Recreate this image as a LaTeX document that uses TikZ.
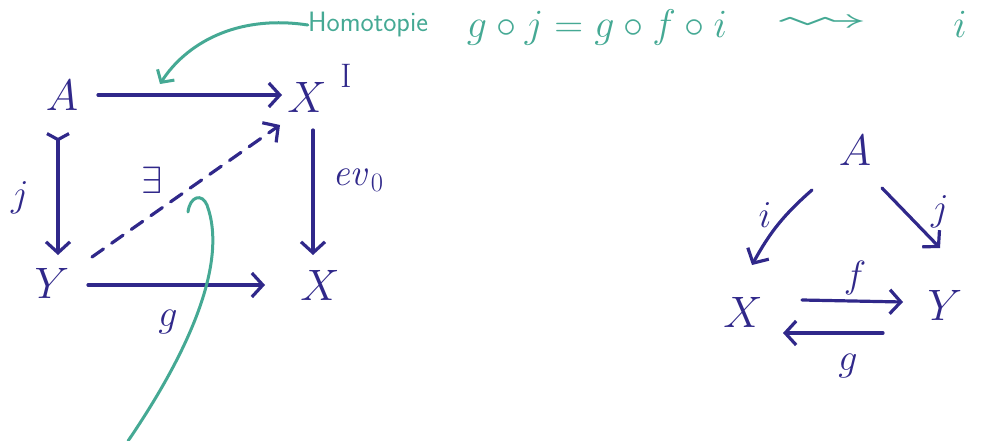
\RequirePackage{fix-cm}
\documentclass[tikz,border=0pt]{standalone}
\usepackage{amssymb}
\usetikzlibrary{arrows.meta,calc}
\definecolor{ink}{HTML}{30288A}
\definecolor{tealink}{HTML}{45A994}
\begin{document}
\begin{tikzpicture}[x=1pt,y=-1pt,
  obj/.style={text=ink,inner sep=1pt,font=\fontsize{44}{44}\selectfont},
  lab/.style={text=ink,inner sep=1pt,font=\fontsize{38}{38}\selectfont},
  mor/.style={draw=ink,line width=3.2pt,line cap=round,-{Straight Barb[length=11pt,width=24pt]}},
  note/.style={draw=tealink,line width=3pt,line cap=round},
  notetext/.style={text=tealink,inner sep=0pt}]
\useasboundingbox (0,0) rectangle (992,441);
% left square
\node[obj] (A) at (62,95) {$A$};
\node[obj] (XI) at (307,97) {$X$};
\node[obj,font=\fontsize{34}{34}\selectfont] (XIexp) at (346,76) {$\mathrm{I}$};
\node[obj] (Y) at (52,283) {$Y$};
\node[obj] (X) at (320,285) {$X$};
\draw[mor] ($(A)+(36,0)$) -- ($(XI)+(-25,-2)$);
\draw[mor,{Straight Barb[reversed,length=6pt,width=22pt]}-{Straight Barb[length=11pt,width=24pt]}] ($(A)+(-4,37)$) -- ($(Y)+(6,-28)$);
\draw[mor] ($(Y)+(36,2)$) -- ($(X)+(-55,0)$);
\draw[mor] ($(XI)+(6,33)$) -- ($(X)+(-7,-30)$);
\draw[mor,dash pattern=on 14pt off 10pt] ($(Y)+(40,-26)$) -- ($(XI)+(-27,28)$);
\node[lab] (lj) at (20,198) {$j$};
\node[lab] (lg) at (168,322) {$g$};
\node[lab] (lex) at (152,180) {$\exists$};
\node[lab] (lev) at (358,180) {$\mathit{ev}_{0}$};
% right triangle
\node[obj] (A2) at (855,150) {$A$};
\node[obj] (X2) at (743,312) {$X$};
\node[obj] (Y2) at (945,305) {$Y$};
\draw[mor] ($(A2)+(-43,40)$) to[bend right=10] ($(X2)+(9,-47)$);
\draw[mor] ($(A2)+(27,38)$) -- ($(Y2)+(-5,-57)$);
\draw[mor] ($(X2)+(59,-12)$) -- ($(Y2)+(-42,-3)$);
\draw[mor] ($(Y2)+(-62,28)$) -- ($(X2)+(40,21)$);
\node[lab] (li) at (765,215) {$i$};
\node[lab] (lj2) at (940,212) {$j$};
\node[lab] (lf) at (855,278) {$f$};
\node[lab] (lg2) at (848,366) {$g$};
% teal annotations
\node[notetext,font=\fontsize{28}{28}\selectfont\sffamily] (homo) at (368,25) {Homotopie};
\node[notetext,font=\fontsize{40}{40}\selectfont] (formula) at (597,28) {$g\circ j = g\circ f\circ i$};
\node[notetext] (squig) at (822,24) {\scalebox{9.5}[4]{$\rightsquigarrow$}};
\node[notetext,font=\fontsize{40}{40}\selectfont] (ifin) at (960,24) {$i$};
\coordinate (tipA) at (160,84);
\draw[note,-{Straight Barb[length=9pt,width=20pt]}] (homo.west) .. controls (235,14) and (185,45) .. (tipA);
\coordinate (lowend) at (128,441);
\coordinate (hookend) at (188,212);
\draw[note] (lowend) .. controls (190,350) and (228,262) .. (207,205) .. controls (202,193) and (190,196) .. (hookend);
\end{tikzpicture}
\end{document}
